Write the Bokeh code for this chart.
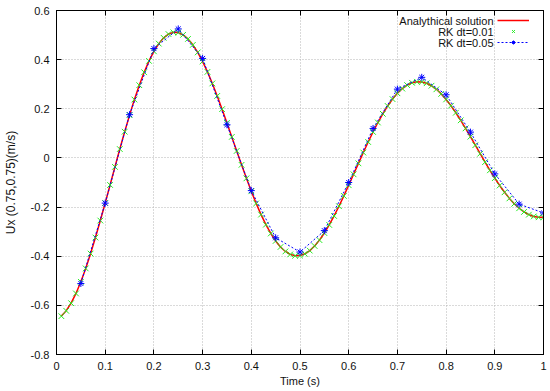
import numpy as np
from bokeh.plotting import figure
from bokeh.models import FixedTicker, Legend, LegendItem, Label, LinearAxis, Range1d
from bokeh.core.properties import value
from bokeh.embed import file_html
from bokeh.resources import INLINE

# ---------------- data ----------------
time_dt001 = np.round(np.arange(1, 101) * 0.01, 2)
analytical = [
    -0.6434, -0.6218, -0.5910, -0.5515, -0.5041, -0.4497, -0.3893, -0.3240, -0.2549, -0.1832,
    -0.1100, -0.0365, 0.0361, 0.1067, 0.1742, 0.2377, 0.2961, 0.3487, 0.3949, 0.4339,
    0.4652, 0.4888, 0.5041, 0.5111, 0.5101, 0.5010, 0.4843, 0.4602, 0.4295, 0.3925,
    0.3502, 0.3032, 0.2523, 0.1985, 0.1426, 0.0856, 0.0284, -0.0281, -0.0831, -0.1357,
    -0.1851, -0.2306, -0.2716, -0.3075, -0.3378, -0.3624, -0.3806, -0.3926, -0.3981, -0.3973,
    -0.3902, -0.3772, -0.3584, -0.3345, -0.3057, -0.2727, -0.2361, -0.1965, -0.1546, -0.1111,
    -0.0667, -0.0221, 0.0219, 0.0647, 0.1057, 0.1441, 0.1796, 0.2115, 0.2395, 0.2632,
    0.2822, 0.2964, 0.3058, 0.3100, 0.3094, 0.3039, 0.2938, 0.2792, 0.2605, 0.2381,
    0.2124, 0.1839, 0.1530, 0.1204, 0.0865, 0.0519, 0.0172, -0.0171, -0.0504, -0.0823,
    -0.1123, -0.1399, -0.1647, -0.1865, -0.2049, -0.2198, -0.2309, -0.2381, -0.2415, -0.2410,
]
rk_dt001 = [
    -0.6440, -0.6222, -0.5912, -0.5516, -0.5042, -0.4497, -0.3893, -0.3240, -0.2549, -0.1832,
    -0.1100, -0.0365, 0.0361, 0.1067, 0.1742, 0.2377, 0.2961, 0.3487, 0.3949, 0.4339,
    0.4652, 0.4888, 0.5041, 0.5111, 0.5101, 0.5010, 0.4843, 0.4602, 0.4295, 0.3925,
    0.3502, 0.3032, 0.2523, 0.1985, 0.1426, 0.0856, 0.0284, -0.0281, -0.0831, -0.1357,
    -0.1851, -0.2306, -0.2716, -0.3075, -0.3378, -0.3624, -0.3806, -0.3926, -0.3981, -0.3973,
    -0.3902, -0.3772, -0.3584, -0.3345, -0.3057, -0.2727, -0.2361, -0.1965, -0.1546, -0.1111,
    -0.0667, -0.0221, 0.0219, 0.0647, 0.1057, 0.1441, 0.1796, 0.2115, 0.2395, 0.2632,
    0.2822, 0.2964, 0.3058, 0.3100, 0.3094, 0.3039, 0.2938, 0.2792, 0.2605, 0.2381,
    0.2124, 0.1839, 0.1530, 0.1204, 0.0865, 0.0519, 0.0172, -0.0171, -0.0504, -0.0823,
    -0.1123, -0.1399, -0.1647, -0.1865, -0.2049, -0.2198, -0.2309, -0.2381, -0.2415, -0.2410,
]
time_dt005 = [0.05, 0.10, 0.15, 0.20, 0.25, 0.30, 0.35, 0.40, 0.45, 0.50,
              0.55, 0.60, 0.65, 0.70, 0.75, 0.80, 0.85, 0.90, 0.95, 1.00]
rk_dt005 = [-0.511, -0.184, 0.176, 0.445, 0.525, 0.405, 0.135, -0.133, -0.325, -0.383,
            -0.296, -0.100, 0.120, 0.280, 0.328, 0.257, 0.105, -0.065, -0.188, -0.224]

x_ticks = [0, 0.1, 0.2, 0.3, 0.4, 0.5, 0.6, 0.7, 0.8, 0.9, 1]
x_tick_labels = ["0", "0.1", "0.2", "0.3", "0.4", "0.5", "0.6", "0.7", "0.8", "0.9", "1"]
y_ticks = [-0.8, -0.6, -0.4, -0.2, 0, 0.2, 0.4, 0.6]
y_tick_labels = ["-0.8", "-0.6", "-0.4", "-0.2", "0", "0.2", "0.4", "0.6"]
legend_labels = ["Analythical solution", "RK dt=0.01", "RK dt=0.05"]

FONT = "Liberation Sans"

p = figure(frame_width=487, frame_height=344,
           x_range=Range1d(0, 1), y_range=Range1d(-0.8, 0.6),
           output_backend="svg", toolbar_location=None,
           min_border_left=55, min_border_right=8, min_border_top=10, min_border_bottom=37,
           background_fill_color="white", border_fill_color="white")
p.outline_line_color = "black"
p.outline_line_width = 1

p.add_layout(LinearAxis(), "above")
p.add_layout(LinearAxis(), "right")

p.xaxis.ticker = FixedTicker(ticks=x_ticks)
p.yaxis.ticker = FixedTicker(ticks=y_ticks)
p.xaxis.major_label_overrides = dict(zip(x_ticks, x_tick_labels))
p.yaxis.major_label_overrides = dict(zip(y_ticks, y_tick_labels))

for ax in list(p.xaxis) + list(p.yaxis):
    ax.major_tick_in = 5
    ax.major_tick_out = 0
    ax.minor_tick_line_color = None
    ax.major_tick_line_color = "black"
    ax.axis_line_color = "black"
    ax.major_label_text_font = FONT
    ax.major_label_text_font_size = "11px"
    ax.major_label_text_color = "#111111"
    ax.axis_label_text_font = FONT
    ax.axis_label_text_font_size = "11px"
    ax.axis_label_text_font_style = "normal"
    ax.axis_label_text_color = "#111111"

for ax in (p.above[0], p.right[0]):
    ax.major_label_text_font_size = "1px"
    ax.major_label_text_color = None
    ax.major_label_standoff = 0

p.below[0].axis_label = "Time (s)"
p.below[0].major_label_standoff = 7
p.below[0].axis_label_standoff = 2
p.left[0].axis_label = "Ux (0.75,0.75)(m/s)"
p.left[0].axis_label_text_font_size = "12px"
p.left[0].major_label_standoff = 7
p.left[0].axis_label_standoff = 10

p.xgrid.grid_line_color = "#b4b4b4"
p.ygrid.grid_line_color = "#b4b4b4"
p.xgrid.grid_line_dash = "1 2"
p.ygrid.grid_line_dash = "1 2"
p.xgrid.grid_line_width = 1
p.ygrid.grid_line_width = 1

r_red = p.line(time_dt001, analytical, line_color="#ff0000", line_width=1.5)
r_green = p.scatter(time_dt001, rk_dt001, marker="x", size=8, line_color="#22ee22", line_width=1)
r_blue_line = p.line(time_dt005, rk_dt005, line_color="#0000ff", line_width=1, line_dash="2 2")
r_blue_pts = p.scatter(time_dt005, rk_dt005, marker="asterisk", size=7, line_color="#0000ff", line_width=1)

legend = Legend(items=[LegendItem(label=value(" "), renderers=[r_red]),
                       LegendItem(label=value(" "), renderers=[r_green]),
                       LegendItem(label=value(" "), renderers=[r_blue_line, r_blue_pts])],
                location=(441, 307), glyph_width=32, glyph_height=10, label_height=10,
                label_width=0, label_standoff=0, spacing=1, padding=0, margin=0,
                border_line_alpha=0, background_fill_alpha=0,
                label_text_font_size="1px", label_text_color=None)
p.add_layout(legend)

for txt, yy in zip(legend_labels, [334, 323, 312]):
    p.add_layout(Label(x=437, y=yy, x_units="screen", y_units="screen", text=txt,
                       text_align="right", text_baseline="middle",
                       text_font=FONT, text_font_size="11px", text_color="#111111"))

open("out.html", "w").write(file_html(p, INLINE))
